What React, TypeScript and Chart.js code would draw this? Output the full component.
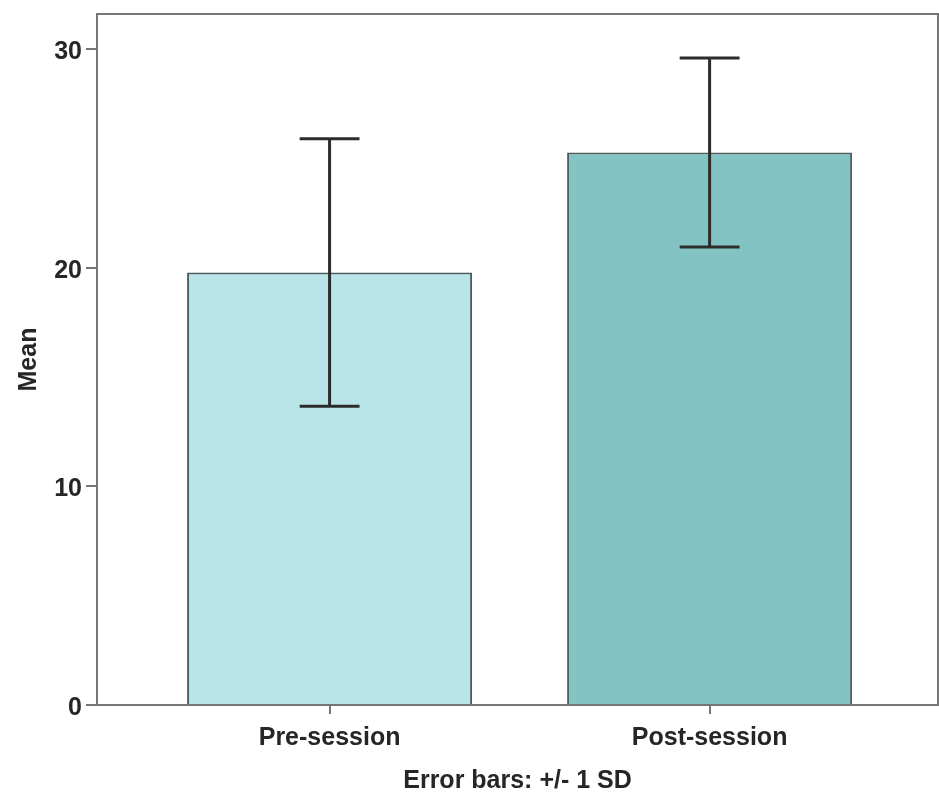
import React, { useEffect, useRef } from "react";
import { Chart, registerables } from "chart.js";

Chart.register(...registerables);

const categories = ["Pre-session", "Post-session"];
const means = [19.78, 25.27];
const sds = [6.12, 4.32];
const yTicks = [0, 10, 20, 30];
const barColors = ["#b9e4e8", "#84c3c3"];

const FONT = "'Liberation Sans', Arial, sans-serif";
const AXIS_COLOR = "#767676";
const TEXT_COLOR = "#262626";

const errorBarPlugin = {
  id: "errorBars",
  afterDatasetsDraw(chart: any) {
    const { ctx, scales } = chart;
    const meta = chart.getDatasetMeta(0);
    ctx.save();
    ctx.strokeStyle = "#2c2c2c";
    ctx.lineWidth = 3;
    meta.data.forEach((bar: any, i: number) => {
      const x = bar.x;
      const yTop = scales.y.getPixelForValue(means[i] + sds[i]);
      const yBot = scales.y.getPixelForValue(means[i] - sds[i]);
      const half = bar.width * 0.105;
      ctx.beginPath();
      ctx.moveTo(x, yTop);
      ctx.lineTo(x, yBot);
      ctx.moveTo(x - half, yTop);
      ctx.lineTo(x + half, yTop);
      ctx.moveTo(x - half, yBot);
      ctx.lineTo(x + half, yBot);
      ctx.stroke();
    });
    ctx.restore();
  },
};

const frameBorderPlugin = {
  id: "frameBorder",
  afterDraw(chart: any) {
    const { ctx, chartArea } = chart;
    ctx.save();
    ctx.strokeStyle = AXIS_COLOR;
    ctx.lineWidth = 2;
    ctx.beginPath();
    ctx.moveTo(chartArea.left, chartArea.top);
    ctx.lineTo(chartArea.right, chartArea.top);
    ctx.lineTo(chartArea.right, chartArea.bottom);
    ctx.stroke();
    ctx.restore();
  },
};

export default function App() {
  const canvasRef = useRef<HTMLCanvasElement | null>(null);

  useEffect(() => {
    if (!canvasRef.current) return;
    const chart = new Chart(canvasRef.current, {
      type: "bar",
      data: {
        datasets: [
          {
            data: categories.map((_, i) => ({ x: i + 1, y: means[i] })) as any,
            backgroundColor: barColors,
            borderColor: "#4d5c5c",
            borderWidth: 2,
            barPercentage: 0.75,
            categoryPercentage: 1,
          },
        ],
      },
      options: {
        animation: false,
        responsive: false,
        maintainAspectRatio: false,
        layout: { padding: { top: 14, right: 1, left: 0, bottom: 0 } },
        plugins: {
          legend: { display: false },
          tooltip: { enabled: false },
        },
        scales: {
          x: {
            type: "linear",
            offset: false,
            min: 0.388,
            max: 2.601,
            afterBuildTicks(scale: any) {
              scale.ticks = categories.map((_, i) => ({ value: i + 1 }));
            },
            afterFit(scale: any) {
              scale.height = 91;
              scale.paddingLeft = 0;
              scale.paddingRight = 0;
            },
            grid: {
              display: true,
              offset: false,
              drawOnChartArea: false,
              drawTicks: true,
              tickLength: 9,
              color: AXIS_COLOR,
              lineWidth: 2,
            },
            border: { display: true, color: AXIS_COLOR, width: 2 },
            ticks: {
              padding: 9,
              color: TEXT_COLOR,
              font: { family: FONT, size: 25, weight: "bold" },
              callback: (v: any) => categories[Math.round(v) - 1] ?? "",
            },
            title: {
              display: true,
              text: "Error bars: +/- 1 SD",
              color: TEXT_COLOR,
              font: { family: FONT, size: 25, weight: "bold" },
              padding: { top: 0, bottom: 0 },
            },
          },
          y: {
            type: "linear",
            min: 0,
            max: 31.6,
            afterBuildTicks(scale: any) {
              scale.ticks = yTicks.map((v) => ({ value: v }));
            },
            afterFit(scale: any) {
              scale.width = 97;
              scale.paddingTop = 0;
              scale.paddingBottom = 0;
            },
            grid: {
              display: true,
              drawOnChartArea: false,
              drawTicks: true,
              tickLength: 11,
              color: AXIS_COLOR,
              lineWidth: 2,
            },
            border: { display: true, color: AXIS_COLOR, width: 2 },
            ticks: {
              padding: 4,
              labelOffset: 3,
              color: TEXT_COLOR,
              font: { family: FONT, size: 25, weight: "bold" },
            },
            title: {
              display: true,
              text: "Mean",
              color: TEXT_COLOR,
              font: { family: FONT, size: 25, weight: "bold" },
              padding: { top: 14, bottom: 0 },
            },
          },
        },
      },
      plugins: [errorBarPlugin, frameBorderPlugin],
    });
    return () => chart.destroy();
  }, []);

  return (
    <div style={{ position: "absolute", left: 0, top: 0, width: 939, height: 796, background: "#fff" }}>
      <canvas ref={canvasRef} width={939} height={796} style={{ display: "block" }} />
    </div>
  );
}
